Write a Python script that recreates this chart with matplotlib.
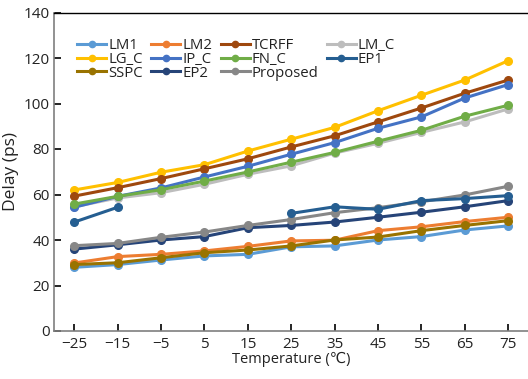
import matplotlib
matplotlib.use("Agg")
import matplotlib.pyplot as plt
from matplotlib.lines import Line2D

plt.rcParams['font.family'] = ['Open Sans', 'DejaVu Sans']

temps = [-25, -15, -5, 5, 15, 25, 35, 45, 55, 65, 75]
temps_ep1a = [-25, -15]
temps_ep1b = [25, 35, 45, 55, 65, 75]

LM1 = [28.0, 29.2, 31.2, 33.0, 33.7, 37.0, 37.4, 40.0, 41.5, 44.4, 46.2]
LM2 = [29.9, 32.7, 33.7, 35.2, 37.2, 39.6, 39.9, 44.1, 45.8, 48.1, 50.0]
TCRFF = [59.3, 63.0, 67.0, 71.3, 75.7, 80.9, 85.8, 91.9, 98.0, 104.5, 110.3]
LM_C = [54.6, 58.5, 60.8, 64.5, 68.9, 72.6, 78.2, 82.5, 87.3, 91.9, 97.6]
LG_C = [62.0, 65.3, 69.8, 73.1, 79.1, 84.3, 89.5, 96.8, 103.6, 110.3, 118.8]
IP_C = [54.4, 59.2, 62.9, 67.7, 72.4, 77.7, 82.8, 89.1, 94.1, 102.4, 108.3]
FN_C = [55.8, 59.2, 62.1, 65.9, 69.9, 74.2, 78.5, 83.4, 88.2, 94.4, 99.2]
EP1_a = [47.9, 54.4]
EP1_b = [51.7, 54.6, 53.5, 57.3, 58.2, 59.5]
SSPC = [29.2, 30.0, 32.2, 34.4, 35.6, 37.4, 40.0, 41.3, 44.1, 46.4, 48.5]
EP2 = [36.0, 37.9, 40.0, 41.5, 45.4, 46.4, 47.9, 50.0, 52.2, 54.6, 57.3]
Proposed = [37.5, 38.5, 41.2, 43.5, 46.4, 49.0, 52.0, 54.2, 56.8, 59.8, 63.6]

colors = {
    "LM1": "#5B9BD5", "LM2": "#ED7D31", "TCRFF": "#9E480E", "LM_C": "#BDBDBD",
    "LG_C": "#FFC000", "IP_C": "#4472C4", "FN_C": "#70AD47", "EP1": "#255E91",
    "SSPC": "#997300", "EP2": "#264478", "Proposed": "#878787",
}

fig = plt.figure(figsize=(5.28, 3.79), dpi=100)
ax = fig.add_axes([54/528, 1-331/379, 1-54/528, (331-12.5)/379])

lw = 2.2
ms = 5.5
series = [("LM_C", LM_C), ("LG_C", LG_C), ("TCRFF", TCRFF), ("IP_C", IP_C), ("FN_C", FN_C),
          ("LM1", LM1), ("LM2", LM2), ("SSPC", SSPC), ("EP2", EP2), ("Proposed", Proposed)]
for name, vals in series:
    ax.plot(temps, vals, color=colors[name], lw=lw, marker='o', ms=ms, zorder=3)
ax.plot(temps_ep1a, EP1_a, color=colors["EP1"], lw=lw, marker='o', ms=ms, zorder=3)
ax.plot(temps_ep1b, EP1_b, color=colors["EP1"], lw=lw, marker='o', ms=ms, zorder=3)

ax.set_xlim(-29.7, 79.6)
ax.set_ylim(0, 140)
ax.set_xticks(temps)
ax.set_xticklabels([str(t).replace('-', '\u2212') for t in temps])
ax.set_yticks(range(0, 141, 20))
ax.tick_params(axis='both', direction='in', length=5, width=1.2, color='black',
               labelsize=11, labelcolor='#222222')
ax.tick_params(axis='x', pad=4)
ax.tick_params(axis='y', pad=3)
for s in ['left', 'bottom']:
    ax.spines[s].set_color('#7f7f7f')
    ax.spines[s].set_linewidth(1.2)
ax.spines['top'].set_color('black')
ax.spines['top'].set_linewidth(1.0)
ax.spines['right'].set_visible(False)

ax.set_xlabel("Temperature (\u2103)", fontsize=10.5, color='#222222', labelpad=0)
ax.set_ylabel("Delay (ps)", fontsize=12.5, color='#222222')
ax.yaxis.set_label_coords(-(54-19)/(528-54), 0.5)

order = ["LM1", "LG_C", "SSPC", "LM2", "IP_C", "EP2", "TCRFF", "FN_C", "Proposed", "LM_C", "EP1"]
handles = [Line2D([], [], color=colors[n], lw=lw, marker='o', ms=4.5) for n in order]
leg = ax.legend(handles, order, ncol=4, loc='upper left', bbox_to_anchor=(0.03, 0.948),
                frameon=False, fontsize=10.7, handlelength=1.95, handletextpad=0.15,
                columnspacing=0.55, labelspacing=-0.08, borderaxespad=0.2)
for t in leg.get_texts():
    t.set_color('#222222')

fig.savefig("out.png", dpi=100)
